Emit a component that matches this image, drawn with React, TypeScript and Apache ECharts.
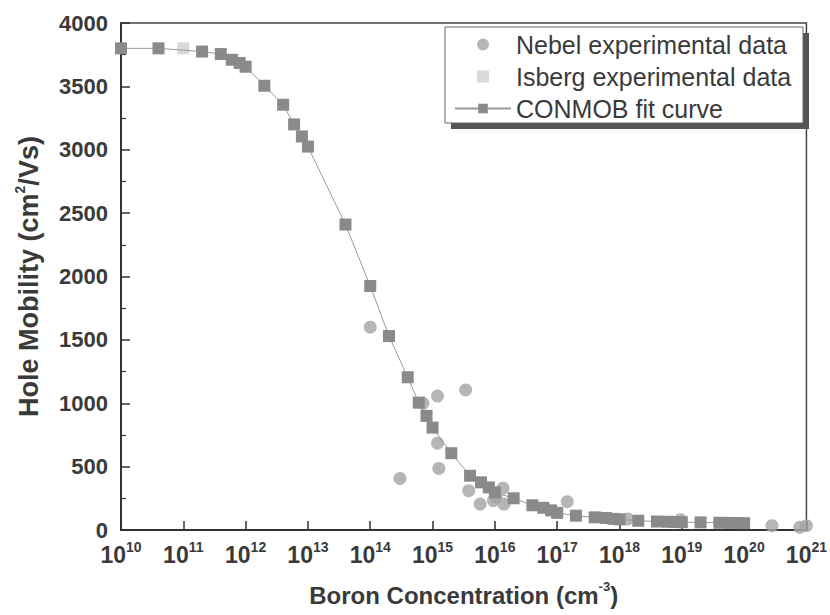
import React, { useEffect, useRef } from "react";
import * as echarts from "echarts";

// CONMOB fit curve (boron concentration in cm^-3, hole mobility in cm^2/Vs)
const fitConc = [
  1e10, 4e10, 2e11, 4e11, 6e11, 8e11, 1e12, 2e12, 4e12, 6e12, 8e12, 1e13,
  4e13, 1e14, 2e14, 4e14, 6e14, 8e14, 1e15, 2e15, 4e15, 6e15, 8e15, 1e16,
  2e16, 4e16, 6e16, 8e16, 1e17, 2e17, 4e17, 6e17, 8e17, 1e18, 2e18, 4e18,
  6e18, 8e18, 1e19, 2e19, 4e19, 6e19, 8e19, 1e20,
];
const fitMob = [
  3800, 3800, 3775, 3755, 3710, 3685, 3655, 3505, 3355, 3200, 3105, 3025,
  2410, 1925, 1530, 1205, 1005, 900, 808, 606, 428, 376, 336, 297,
  250, 195, 175, 155, 135, 113, 100, 95, 88, 84, 73, 67,
  65, 63, 62, 60, 57, 56, 55, 54,
];

// Nebel experimental data
const nebelConc = [
  1e14, 3e14, 7e14, 1.2e15, 1.2e15, 1.26e15, 3.4e15, 3.8e15, 5.8e15, 9.5e15,
  1.05e16, 1.35e16, 1.4e16, 1.45e17, 1.35e18, 9.5e18, 2.8e20, 7.8e20, 1e21,
];
const nebelMob = [
  1600, 407, 1000, 1057, 685, 486, 1105, 310, 205, 232,
  260, 330, 205, 223, 87, 81, 34, 21, 34,
];

// Isberg experimental data
const isbergConc = [1e11];
const isbergMob = [3800];

const legendNames = ["Nebel experimental data", "Isberg experimental data", "CONMOB fit curve"];
const xTitle = "Boron Concentration (cm{s|-3})";
const yTitle = "Hole Mobility (cm{s|2}/Vs)";

const FONT = "'Liberation Sans', Arial, Helvetica, sans-serif";
const TXT = "#3a3a3a";

const toPts = (xs: number[], ys: number[]) => xs.map((c, i) => [Math.log10(c), ys[i]]);

export default function App() {
  const ref = useRef<HTMLDivElement>(null);
  useEffect(() => {
    if (!ref.current) return;
    const chart = echarts.init(ref.current, null, { renderer: "svg" });
    chart.setOption({
      animation: false,
      backgroundColor: "#fff",
      textStyle: { fontFamily: FONT },
      grid: {
        left: 121, right: 18, top: 23, bottom: 84,
        show: true, borderColor: "#444", borderWidth: 1.5, backgroundColor: "transparent",
      },
      graphic: [
        { type: "rect", shape: { x: 451, y: 33, width: 358, height: 96 }, style: { fill: "#555" }, z: 5 },
        { type: "rect", shape: { x: 445, y: 27, width: 358, height: 96 }, style: { fill: "#fff", stroke: "#666", lineWidth: 1 }, z: 6 },
      ],
      legend: {
        data: [
          { name: legendNames[0], icon: "circle" },
          { name: legendNames[1], icon: "path://M0,0H10V10H0Z" },
          { name: legendNames[2] },
        ],
        orient: "vertical",
        left: 444,
        top: 27,
        padding: [5, 10, 5, 10],
        itemWidth: 56,
        itemHeight: 12,
        itemGap: 7,
        symbolKeepAspect: true,
        z: 10,
        textStyle: { fontSize: 25, color: TXT, lineHeight: 24, fontFamily: FONT },
      },
      xAxis: {
        type: "value",
        min: 10,
        max: 21,
        interval: 1,
        splitLine: { show: false },
        axisLine: { lineStyle: { color: "#333", width: 2 } },
        axisTick: { inside: true, length: 9, lineStyle: { color: "#333", width: 1.5 } },
        axisLabel: {
          margin: 10,
          formatter: (v: number) => `{m|10}{s|${Math.round(v)}}`,
          rich: {
            m: { fontSize: 23, fontWeight: "bold", color: TXT, lineHeight: 30, fontFamily: FONT },
            s: { fontSize: 14, fontWeight: "bold", color: TXT, lineHeight: 14, verticalAlign: "top", fontFamily: FONT },
          },
        },
        name: xTitle,
        nameLocation: "middle",
        nameGap: 50,
        nameTextStyle: {
          rich: {
            s: { fontSize: 13, fontWeight: "bold", color: TXT, lineHeight: 13, verticalAlign: "top", fontFamily: FONT },
          },
          fontSize: 24, fontWeight: "bold", color: TXT, lineHeight: 30, fontFamily: FONT,
        },
      },
      yAxis: {
        type: "value",
        min: 0,
        max: 4000,
        interval: 500,
        splitLine: { show: false },
        axisLine: { show: true, lineStyle: { color: "#333", width: 2 } },
        axisTick: { inside: true, length: 9, lineStyle: { color: "#333", width: 1.5 } },
        minorTick: { show: true, splitNumber: 2, length: 5, lineStyle: { color: "#333", width: 1.2 } },
        axisLabel: {
          margin: 13, fontSize: 22, fontWeight: "bold", color: TXT, fontFamily: FONT,
          formatter: (v: number) => String(v),
        },
        name: yTitle,
        nameLocation: "middle",
        nameGap: 76,
        nameTextStyle: {
          rich: {
            s: { fontSize: 14, fontWeight: "bold", color: TXT, lineHeight: 14, verticalAlign: "top", fontFamily: FONT },
          },
          fontSize: 27, fontWeight: "bold", color: TXT, lineHeight: 32, fontFamily: FONT,
        },
      },
      series: [
        {
          name: legendNames[0],
          type: "scatter",
          symbol: "circle",
          symbolSize: 13,
          itemStyle: { color: "#a4a4a4" },
          data: toPts(nebelConc, nebelMob),
        },
        {
          name: legendNames[1],
          type: "scatter",
          symbol: "rect",
          symbolSize: 12,
          itemStyle: { color: "#cfcfcf" },
          data: toPts(isbergConc, isbergMob),
        },
        {
          name: legendNames[2],
          type: "line",
          symbol: "rect",
          symbolSize: 12,
          showSymbol: true,
          showAllSymbol: true,
          itemStyle: { color: "#8a8a8a" },
          lineStyle: { color: "#9a9a9a", width: 1 },
          data: toPts(fitConc, fitMob),
        },
      ],
    });
    return () => chart.dispose();
  }, []);
  return <div ref={ref} style={{ position: "fixed", left: 0, top: 0, width: 830, height: 615 }} />;
}
